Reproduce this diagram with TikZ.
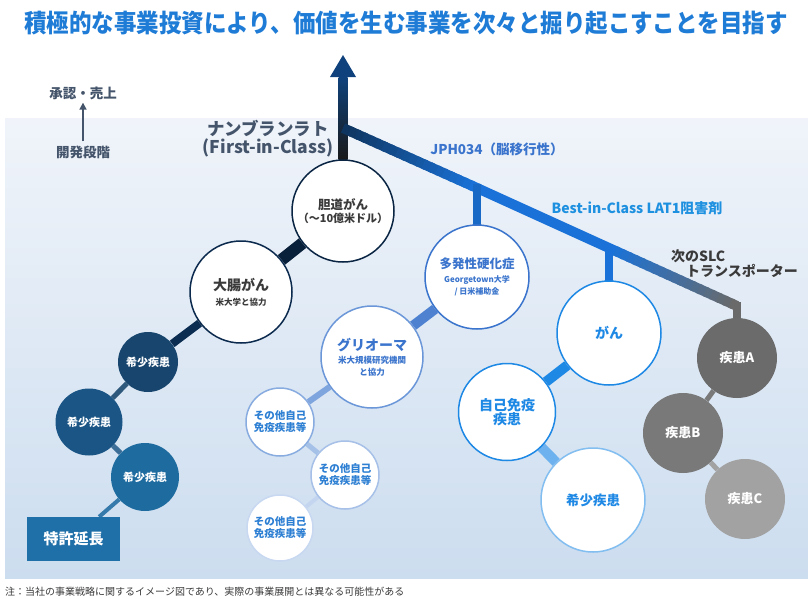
\documentclass[tikz,border=0pt]{standalone}
\usepackage{fontspec}
\setmainfont{Noto Sans CJK JP}
\usetikzlibrary{calc,arrows.meta}
\pgfdeclarelayer{panel}\pgfdeclarelayer{lines}
\pgfsetlayers{panel,lines,main}
\definecolor{titleblue}{HTML}{1E7BD6}
\definecolor{legend}{HTML}{44546A}
\definecolor{navy}{HTML}{0E3560}
\definecolor{arrowblue}{HTML}{0F427C}
\definecolor{bblue}{HTML}{1A72D8}
\definecolor{bgray}{HTML}{6A6A6A}
\definecolor{panelTop}{HTML}{F0F4FA}
\definecolor{panelBot}{HTML}{CCDDEF}
\definecolor{darktext}{HTML}{3A3A3A}
\definecolor{msblue}{HTML}{3A74CC}
\definecolor{skyblue}{HTML}{1E88E5}
\definecolor{bestblue}{HTML}{1E90E0}
\definecolor{rare1}{HTML}{17456E}
\definecolor{rare2}{HTML}{1A5585}
\definecolor{rare3}{HTML}{1E6BA0}
\definecolor{patent}{HTML}{1F6FA8}
\definecolor{othtext}{HTML}{2D7FD3}
\definecolor{gA}{HTML}{6B6B6B}
\definecolor{gB}{HTML}{797979}
\definecolor{gC}{HTML}{A2A2A2}
\tikzset{
  circ/.style={circle, inner sep=0pt, align=center, line width=1.5pt, fill=white},
  dcirc/.style={circle, inner sep=0pt, align=center, text=white},
  conn/.style={line cap=butt},
  txt/.style={inner sep=0pt, align=center}
}
\newcommand{\fs}[1]{\fontsize{#1}{\fpeval{#1*1.2}}\selectfont}
\begin{document}
\begin{tikzpicture}[x=1pt,y=-1pt,font=\bfseries]
\useasboundingbox (0,0) rectangle (808,598);
\begin{pgfonlayer}{panel}
\shade[top color=panelTop, bottom color=panelBot] (5,118) rectangle (808,578);
\end{pgfonlayer}

% title
\node[txt, text=titleblue] (title) at (406,23) {\scalebox{0.9}[1]{\fs{25}積極的な事業投資により、価値を生む事業を次々と掘り起こすことを目指す}};

% legend
\node[txt, text=legend] (shonin) at (83,93) {\fs{13.5}承認・売上};
\node[txt, text=legend] (kaihatsu) at (83,152) {\fs{13.5}開発段階};
\draw[legend, line width=1.6pt, -{Triangle[width=7pt,length=7pt]}, shorten <=4pt, shorten >=3pt] (kaihatsu) -- (shonin);

% main labels
\node[txt, text=legend] (nanv) at (268,139) {\fs{17.5}ナンブランラト\\[1pt]\fs{17.5}(First-in-Class)};
\node[txt, text=msblue] (jph) at (497,149) {\fs{13.5}JPH034（脳移行性）};
\node[txt, text=bestblue] (best) at (637,208) {\fs{14}Best-in-Class LAT1阻害剤};
\node[txt, text=darktext, anchor=west] (slc1) at (671,256) {\fs{14}次のSLC};
\node[txt, text=darktext, anchor=west] (slc2) at (686,271) {\fs{14}トランスポーター};

% circles - first-in-class branch
\node[circ, draw=navy!70!black, minimum size=102pt] (tando) at (343,211) {\color{darktext}\fs{12.5}胆道がん\\[1pt]\color{darktext}\fs{11}（～10億米ドル）};
\node[circ, draw=navy!80!black, minimum size=102pt] (daicho) at (241,292) {\color{darktext}\fs{14}大腸がん\\[3pt]\color{darktext}\fs{8.5}米大学と協力};
\node[dcirc, fill=rare1, minimum size=60pt] (r1) at (148,362) {\fs{11}希少疾患};
\node[dcirc, fill=rare2, minimum size=67pt] (r2) at (89,422) {\fs{11}希少疾患};
\node[dcirc, fill=rare3, minimum size=68pt] (r3) at (145,477) {\fs{11}希少疾患};
\node[txt, fill=patent, text=white, minimum width=93pt, minimum height=44pt] (patent) at (73.5,539) {\fs{15}特許延長};

% JPH034 branch
\node[circ, draw=msblue, minimum size=104pt] (ms) at (477,277) {\color{msblue}\fs{12.5}多発性硬化症\\[2pt]\color{msblue}\fs{8}Georgetown大学\\\color{msblue}\fs{8}/ 日米補助金};
\node[circ, draw=msblue!75!white, minimum size=102pt] (glio) at (372,357) {\color{msblue}\fs{14}グリオーマ\\[1pt]\color{msblue}\fs{8.5}米大規模研究機関\\\color{msblue}\fs{8.5}と協力};
\node[circ, draw=msblue!60!white, minimum size=68pt] (o1) at (280,422) {\color{othtext}\fs{10.5}その他自己\\\color{othtext}\fs{10.5}免疫疾患等};
\node[circ, draw=msblue!45!white, minimum size=68pt] (o2) at (345,475) {\color{othtext}\fs{10.5}その他自己\\\color{othtext}\fs{10.5}免疫疾患等};
\node[circ, draw=msblue!28!white, minimum size=66pt] (o3) at (280,528) {\color{othtext}\fs{10.5}その他自己\\\color{othtext}\fs{10.5}免疫疾患等};

% LAT1 branch
\node[circ, draw=skyblue, minimum size=104pt] (gan) at (609,333) {\color{skyblue}\fs{14}がん};
\node[circ, draw=skyblue, minimum size=97pt] (auto) at (507,412) {\color{skyblue}\fs{14}自己免疫\\\color{skyblue}\fs{14}疾患};
\node[circ, draw=skyblue!55!white, minimum size=104pt] (rare) at (593,500) {\color{skyblue}\fs{13.5}希少疾患};

% SLC branch
\node[dcirc, fill=gA, minimum size=80pt] (dA) at (737,358) {\fs{13}疾患A};
\node[dcirc, fill=gB, minimum size=80pt] (dB) at (683,433) {\fs{13}疾患B};
\node[dcirc, fill=gC, minimum size=80pt] (dC) at (745,499) {\fs{13}疾患C};

% footer
\node[txt, text=darktext, anchor=west, font=\mdseries] (note) at (5,592) {\fs{10}注：当社の事業戦略に関するイメージ図であり、実際の事業展開とは異なる可能性がある};

% branch coordinates
\coordinate (top) at (343,77);
\coordinate (tip) at (343,55);
\coordinate (b0) at (343,128);
\coordinate (c1) at (477,188);
\coordinate (c2) at (609,248);
\coordinate (c3) at (737,306);

\begin{pgfonlayer}{lines}
% main arrow shaft
\shade[top color=arrowblue, bottom color=black!90] ($(tando.north)+(-4.5,0)$) rectangle ($(top)+(4.5,0)$);
\fill[arrowblue] ($(top)+(-13,0)$) -- ($(top)+(13,0)$) -- (tip) -- cycle;
% b0 -> c1 gradient navy -> blue
\foreach \i in {0,...,19}{
  \pgfmathtruncatemacro\p{100*\i/19}
  \draw[conn, line width=10pt, color=bblue!\p!navy] ($(b0)!\i/20!(c1)$) -- ($(b0)!{(\i+1.4)/20}!(c1)$);
}
\draw[conn, line width=10pt, bblue] (c1) -- (c2);
% c2 -> c3 gradient blue -> grey
\foreach \i in {0,...,19}{
  \pgfmathtruncatemacro\p{100*\i/19}
  \draw[conn, line width=10pt, color=bgray!\p!bblue] ($(c2)!\i/20!(c3)$) -- ($(c2)!{min((\i+1.4)/20,1)}!(c3)$);
}
\draw[line width=8pt, line cap=rect, bblue!85!navy] (c1) -- (ms.north);
\draw[line width=8pt, line cap=rect, bblue] (c2) -- (gan.north);
\draw[line width=8pt, line cap=rect, bgray] (c3) -- (dA.north);
% first-in-class chain
\draw[conn, line width=12pt, navy!60!black] (tando) -- (daicho);
\draw[conn, line width=8pt, navy!85!black] (daicho) -- (r1);
\draw[conn, line width=5pt, rare1!90!white] (r1) -- (r2);
\draw[conn, line width=5pt, rare2!85!white] (r2) -- (r3);
\draw[conn, line width=4pt, rare3!90!white] (r3) -- (patent);
% JPH034 chain
\draw[conn, line width=10pt, msblue!90!white] (ms) -- (glio);
\draw[conn, line width=6pt, msblue!65!white] (glio) -- (o1);
\draw[conn, line width=5pt, msblue!45!white] (o1) -- (o2);
\draw[conn, line width=4pt, msblue!30!white] (o2) -- (o3);
% LAT1 chain
\draw[conn, line width=10pt, skyblue] (gan) -- (auto);
\draw[conn, line width=10pt, skyblue!65!white] (auto) -- (rare);
% SLC chain
\draw[conn, line width=5pt, gB] (dA) -- (dB);
\draw[conn, line width=5pt, gC] (dB) -- (dC);
\end{pgfonlayer}
\end{tikzpicture}
\end{document}
